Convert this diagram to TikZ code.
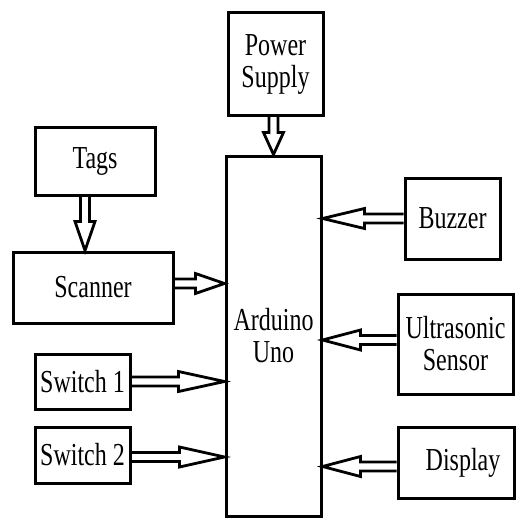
\documentclass[tikz,border=0pt]{standalone}
\usepackage{fontspec}
\setmainfont[FakeStretch=0.75]{Liberation Serif}
\usetikzlibrary{calc}
\begin{document}
\begin{tikzpicture}[x=1pt,y=-1pt,line join=miter,
  box/.style={draw,line width=3pt,inner sep=0pt,align=center,
    font=\fontsize{32}{32}\selectfont},
  barrow/.style={line width=2.8pt,to path={
    let \p1=($(\tikztotarget)!#1!(\tikztostart)$) in
    ($(\tikztostart)!4.5pt!90:(\tikztotarget)$) --
    ($(\p1)!4.5pt!90:(\tikztotarget)$) --
    ($(\p1)!10pt!90:(\tikztotarget)$) --
    (\tikztotarget) --
    ($(\p1)!10pt!-90:(\tikztotarget)$) --
    ($(\p1)!4.5pt!-90:(\tikztotarget)$) --
    ($(\tikztostart)!4.5pt!-90:(\tikztotarget)$)
  }}]
\useasboundingbox (0,0) rectangle (529,519);

\node[box,minimum width=95pt,minimum height=102pt] (power) at (275.5,64) {Power\\Supply};
\node[box,minimum width=95pt,minimum height=360pt] (arduino) at (273.5,336) {Arduino\\Uno};
\node[box,minimum width=120pt,minimum height=68pt] (tags) at (95,161) {Tags};
\node[box,minimum width=160pt,minimum height=71pt] (scanner) at (93,287.5) {Scanner};
\node[box,minimum width=95pt,minimum height=55pt] (sw1) at (82.5,381.5) {Switch 1};
\node[box,minimum width=95pt,minimum height=56pt] (sw2) at (82.5,455) {Switch 2};
\node[box,minimum width=95pt,minimum height=81pt] (buzzer) at (452.5,218.5) {Buzzer};
\node[box,minimum width=115pt,minimum height=100pt] (ultra) at (455.5,344) {Ultrasonic\\Sensor};
\node[box,minimum width=116pt,minimum height=71pt] (display) at (456,462.5) {\hspace*{14pt}Display};

\draw[barrow=22pt] ([xshift=-2pt]power.south) to ([xshift=-2pt]power.south |- arduino.north);
\draw[barrow=29pt] ([xshift=-10pt]tags.south) to ([xshift=-10pt]tags.south |- scanner.north);
\draw[barrow=29pt] ([yshift=4pt]scanner.east) to ([yshift=4pt]scanner.east -| arduino.west);
\draw[barrow=46pt] (sw1.east) to (sw1.east -| arduino.west);
\draw[barrow=45pt] ([yshift=-2pt]sw2.east) to ([yshift=-2pt]sw2.east -| arduino.west);
\draw[barrow=42pt] (buzzer.west) to (buzzer.west -| arduino.east);
\draw[barrow=38pt] ([yshift=4pt]ultra.west) to ([yshift=4pt]ultra.west -| arduino.east);
\draw[barrow=38pt] ([yshift=-4pt]display.west) to ([yshift=-4pt]display.west -| arduino.east);
\end{tikzpicture}
\end{document}
